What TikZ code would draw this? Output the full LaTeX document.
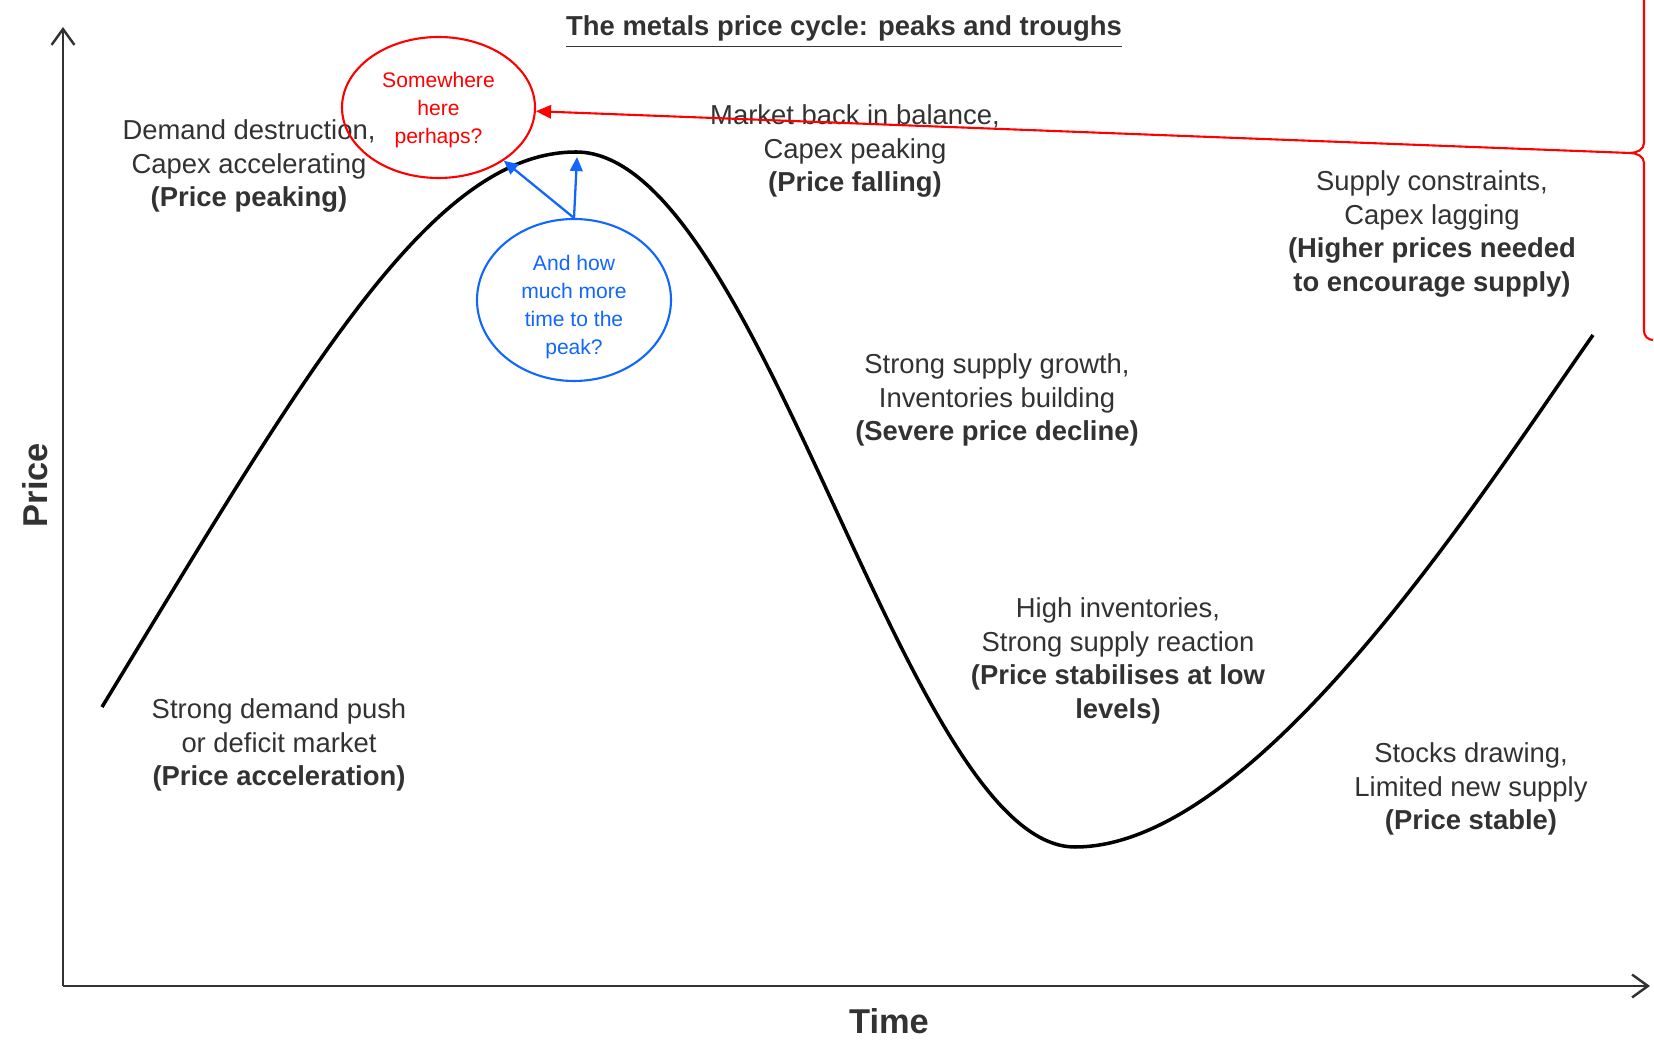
\documentclass[tikz,border=0pt]{standalone}
\usepackage{fontspec}
\setmainfont{Liberation Sans}
\usepackage{tikz}
\usetikzlibrary{arrows.meta}
\usetikzlibrary{shapes.geometric}
\definecolor{txtgray}{RGB}{50,50,50}
\definecolor{askblue}{RGB}{17,102,255}
\definecolor{askred}{RGB}{255,0,0}
\tikzset{>=latex}
\tikzstyle{phase} = [align=center, inner sep=0, text=txtgray, font=\fontsize{7.8}{9.6}\selectfont]
\tikzstyle{bubble} = [ellipse, align=center, inner sep=0, line width=0.6pt, font=\fontsize{6}{8}\selectfont]
\tikzstyle{axis} = [-{Straight Barb[length=4.5pt, width=6.5pt]}, line width=0.7pt, draw=txtgray]

\begin{document}
\begin{tikzpicture}
\useasboundingbox (-0.63, -0.59) rectangle (15.91, 9.86);
\coordinate (O) at (0, 0);
\coordinate (YT) at (0, 9.59);
\coordinate (XT) at (15.87, 0);
\draw [axis] (O) -- (YT);
\draw [axis] (O) -- (XT);
\node [rotate=90, text=txtgray, font=\bfseries\fontsize{9.8}{12}\selectfont] (PR) at (-0.28, 5.01) {Price};
\node [text=txtgray, font=\bfseries\fontsize{9.8}{12}\selectfont] (TM) at (8.26, -0.35) {Time};
\node [text=txtgray, font=\bfseries\fontsize{7.8}{9.6}\selectfont] (TT) at (7.81, 9.54) {\underline{The metals price cycle: peaks and troughs}};

\draw [line width=1pt] (0.39, 2.79) .. controls (2.41, 6.11) and (3.67, 8.34) .. (5.13, 8.34)
  .. controls (6.98, 8.34) and (8.42, 1.39) .. (10.12, 1.39)
  .. controls (11.96, 1.39) and (14.21, 4.96) .. (15.30, 6.51);

\node [phase] (PK) at (1.86, 8.20) {Demand destruction,\\Capex accelerating\\\textbf{(Price peaking)}};
\node [phase] (FL) at (7.92, 8.35) {Market back in balance,\\Capex peaking\\\textbf{(Price falling)}};
\node [phase] (HP) at (13.69, 7.52) {Supply constraints,\\Capex lagging\\\textbf{(Higher prices needed}\\\textbf{to encourage supply)}};
\node [phase] (SD) at (9.34, 5.86) {Strong supply growth,\\Inventories building\\\textbf{(Severe price decline)}};
\node [phase] (LO) at (10.55, 3.25) {High inventories,\\Strong supply reaction\\\textbf{(Price stabilises at low}\\\textbf{levels)}};
\node [phase] (AC) at (2.16, 2.41) {Strong demand push\\or deficit market\\\textbf{(Price acceleration)}};
\node [phase] (SB) at (14.08, 1.97) {Stocks drawing,\\Limited new supply\\\textbf{(Price stable)}};

\node [bubble, draw=askred, text=askred, minimum width=1.93cm, minimum height=1.41cm] (R) at (3.755, 8.785) {\raisebox{-0.7pt}[\height][\depth]{\begin{tabular}{@{}c@{}}Somewhere\\here\\perhaps?\end{tabular}}};
\node [bubble, draw=askblue, text=askblue, minimum width=1.94cm, minimum height=1.62cm] (B) at (5.11, 6.86) {\raisebox{-2pt}[\height][\depth]{\begin{tabular}{@{}c@{}}And how\\much more\\time to the\\peak?\end{tabular}}};

\coordinate (TOP) at (5.14, 8.29);
\coordinate (BR) at (15.67, 8.33);
\draw [-{Triangle[length=4pt, width=3.6pt]}, line width=0.65pt, draw=askblue, fill=askblue] (B.north) -- (R);
\draw [-{Triangle[length=4pt, width=3.6pt]}, line width=0.65pt, draw=askblue, fill=askblue] (B.north) -- (TOP);
\draw [-{Triangle[length=4.3pt, width=3.8pt]}, line width=0.6pt, draw=askred, fill=askred] (BR) -- (R);
\draw [line width=0.6pt, draw=askred] (15.81, 9.86) -- (15.81, 8.43) to [out=-90, in=0] (BR) to [out=0, in=90] (15.81, 8.23) -- (15.81, 6.55) to [out=-90, in=180] (15.90, 6.46);
\end{tikzpicture}
\end{document}
